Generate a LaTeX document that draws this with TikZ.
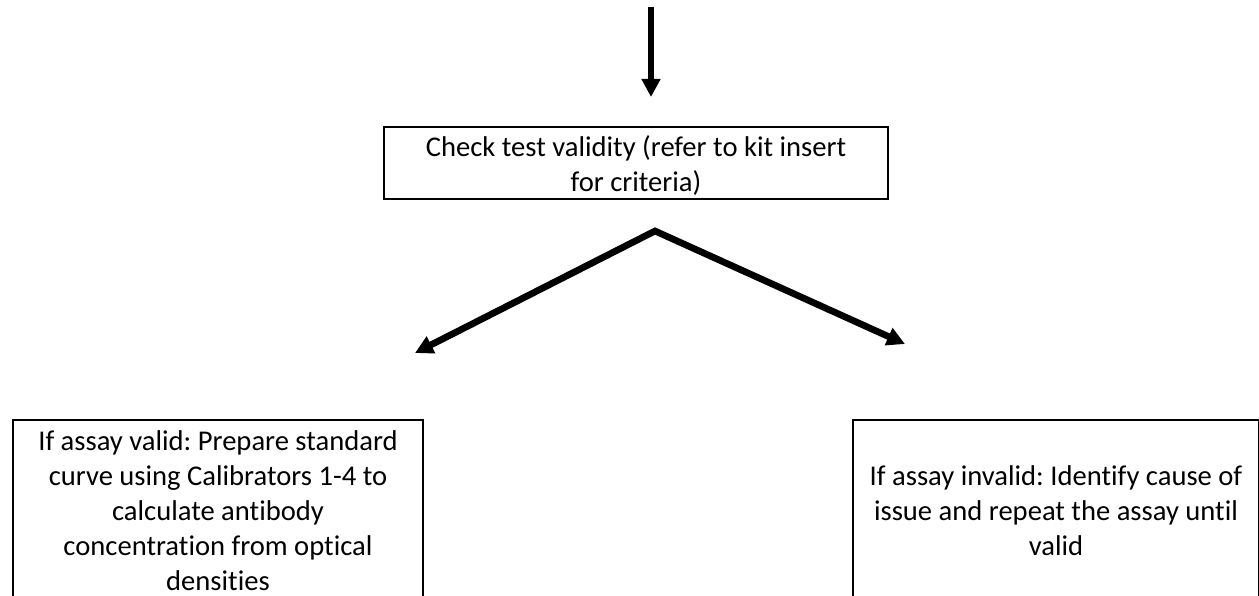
\documentclass[tikz,border=0pt]{standalone}
\usepackage{fontspec}
\setmainfont{Carlito}[Ligatures={NoCommon}]
\frenchspacing
\usetikzlibrary{arrows.meta}
\begin{document}
\begin{tikzpicture}[x=1pt,y=-1pt,
  box/.style={draw=black, line width=2pt, align=center, inner sep=0pt, anchor=north west, font=\fontsize{28.6}{35}\selectfont\frenchspacing},
  arr/.style={line width=6.7pt, -{Triangle[width=18pt,length=18pt]}},
  arr2/.style={line width=6.7pt, line join=miter, {Triangle[width=18pt,length=18pt]}-{Triangle[width=18pt,length=18pt]}}
]
\useasboundingbox (0,0) rectangle (1259,596);
\fill[white] (0,0) rectangle (1259,596);
\coordinate (tstart) at (651,7);
\coordinate (tend) at (651,97);
\draw[arr] (tstart) -- (tend);
\node[box, minimum width=504pt, minimum height=72pt] (chk) at (383,126)
  {\rule{0pt}{25pt}Check test validity (refer to kit insert\\for criteria)};
\coordinate (apex) at (655,231);
\coordinate (ltip) at (415,353);
\coordinate (rtip) at (905,344);
\draw[arr2] (ltip) -- (apex) -- (rtip);
\node[box, minimum width=410pt, minimum height=181pt] (lbox) at (12,419)
  {If assay valid: Prepare standard\\curve using Calibrators 1-4 to\\calculate antibody\\concentration from optical\\densities};
\node[box, minimum width=406pt, minimum height=181pt] (rbox) at (852,419)
  {If assay invalid: Identify cause of\\issue and repeat the assay until\\valid};
\end{tikzpicture}
\end{document}
